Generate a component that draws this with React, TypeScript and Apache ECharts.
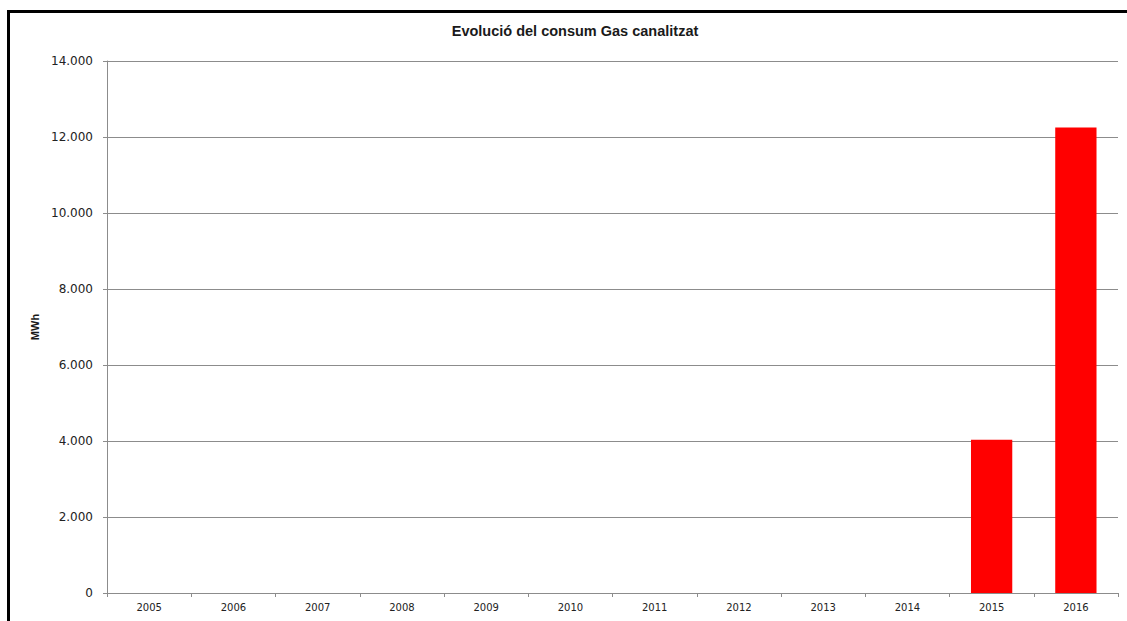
import React, { useEffect, useRef } from "react";
import * as echarts from "echarts";

const categories = ["2005", "2006", "2007", "2008", "2009", "2010", "2011", "2012", "2013", "2014", "2015", "2016"];
const consumValues = [0, 0, 0, 0, 0, 0, 0, 0, 0, 0, 4030, 12250];
const yTicks = { min: 0, max: 14000, interval: 2000 };
const titleText = "Evolució del consum Gas canalitzat";
const yName = "MWh";

function fmt(v: number): string {
  return String(Math.round(v)).replace(/\B(?=(\d{3})+(?!\d))/g, ".");
}

export default function App() {
  const ref = useRef<HTMLDivElement>(null);
  useEffect(() => {
    document.body.style.margin = "0";
    const chart = echarts.init(ref.current!, null, { renderer: "svg" });
    chart.setOption({
      animation: false,
      backgroundColor: "#ffffff",
      title: {
        text: titleText,
        left: 570,
        top: 18,
        textAlign: "center",
        textStyle: { fontFamily: "Liberation Sans", fontWeight: "bold", fontSize: 14.5, color: "#1a1a1a" },
      },
      grid: { left: 107, top: 61, right: 9, bottom: 28, containLabel: false },
      graphic: [
        { type: "rect", shape: { x: 7, y: 10, width: 3, height: 620 }, style: { fill: "#000" }, silent: true },
        { type: "rect", shape: { x: 7, y: 10, width: 1120, height: 3 }, style: { fill: "#000" }, silent: true },
      ],
      xAxis: {
        type: "category",
        data: categories,
        axisLine: { lineStyle: { color: "#8c8c8c", width: 1 } },
        axisTick: { show: true, length: 4, lineStyle: { color: "#8c8c8c" } },
        axisLabel: { fontFamily: "DejaVu Sans", fontSize: 10, color: "#222", margin: 9 },
      },
      yAxis: {
        type: "value",
        min: yTicks.min,
        max: yTicks.max,
        interval: yTicks.interval,
        name: yName,
        nameLocation: "middle",
        nameGap: 67,
        nameRotate: 90,
        nameTextStyle: { fontFamily: "Liberation Sans", fontWeight: "bold", fontSize: 11, color: "#1a1a1a" },
        axisLine: { show: true, lineStyle: { color: "#8c8c8c", width: 1 } },
        axisTick: { show: true, length: 4, lineStyle: { color: "#8c8c8c" } },
        axisLabel: { fontFamily: "DejaVu Sans", fontSize: 12, color: "#222", margin: 14, formatter: (v: number) => fmt(v) },
        splitLine: { show: true, lineStyle: { color: "#8c8c8c", width: 1 } },
      },
      series: [
        {
          type: "bar",
          data: consumValues,
          barCategoryGap: "51%",
          itemStyle: { color: "#ff0000" },
        },
      ],
    });
    return () => chart.dispose();
  }, []);
  return <div ref={ref} style={{ width: 1127, height: 621 }} />;
}
